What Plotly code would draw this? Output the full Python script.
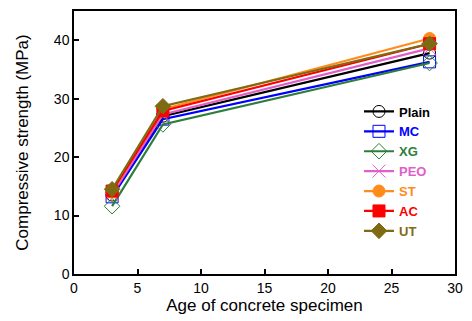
import plotly.graph_objects as go

days = [3, 7, 28]
series_names = ["Plain", "MC", "XG", "PEO", "ST", "AC", "UT"]
plain = [13.5, 27.0, 37.8]
mc = [13.2, 26.5, 36.3]
xg = [11.6, 25.6, 36.1]
peo = [13.6, 27.3, 38.6]
st = [14.0, 28.2, 40.3]
ac = [14.2, 27.9, 39.4]
ut = [14.5, 28.7, 39.4]
values = [plain, mc, xg, peo, st, ac, ut]

colors = ["#000000", "#0000ff", "#2e7d3a", "#e060c8", "#ff8c1a", "#ff0000", "#7f6a14"]
symbols = ["circle-open", "square-open", "diamond-open", "x-thin-open", "circle", "square", "diamond"]
sizes = [12, 12, 12, 13, 12, 12, 12]

fig = go.Figure()
for name, vals, c, s, sz in zip(series_names, values, colors, symbols, sizes):
    fig.add_trace(go.Scatter(
        x=days, y=vals, mode="lines+markers",
        name=f"<span style='color:{c}'><b>{name}</b></span>",
        line=dict(color=c, width=2.2),
        marker=dict(symbol=s, size=sz, color=c, line=dict(color=c, width=1)),
    ))

fig.update_layout(
    width=472, height=321,
    margin=dict(l=74, r=13, t=9, b=47),
    paper_bgcolor="white", plot_bgcolor="white",
    font=dict(family="Liberation Sans, Arial, sans-serif", size=14, color="black"),
    legend=dict(x=0.748, y=0.675, xanchor="left", yanchor="top",
                bgcolor="rgba(0,0,0,0)", font=dict(size=13),
                tracegroupgap=0, itemwidth=30),
    showlegend=True,
)
fig.update_xaxes(range=[0, 30], tickvals=[0, 5, 10, 15, 20, 25, 30],
                 ticks="inside", ticklen=5, tickwidth=1.5, tickcolor="black",
                 showline=True, linecolor="black", linewidth=1.5, mirror=True,
                 showgrid=False, zeroline=False, tickfont=dict(size=14),
                 title=dict(text="Age of concrete specimen", font=dict(size=17), standoff=5))
fig.update_yaxes(range=[0, 45], tickvals=[0, 10, 20, 30, 40],
                 ticks="inside", ticklen=5, tickwidth=1.5, tickcolor="black",
                 showline=True, linecolor="black", linewidth=1.5, mirror=True,
                 showgrid=False, zeroline=False, tickfont=dict(size=14),
                 title=dict(text="Compressive strength (MPa)", font=dict(size=17), standoff=21))

fig.write_html("out.html")
